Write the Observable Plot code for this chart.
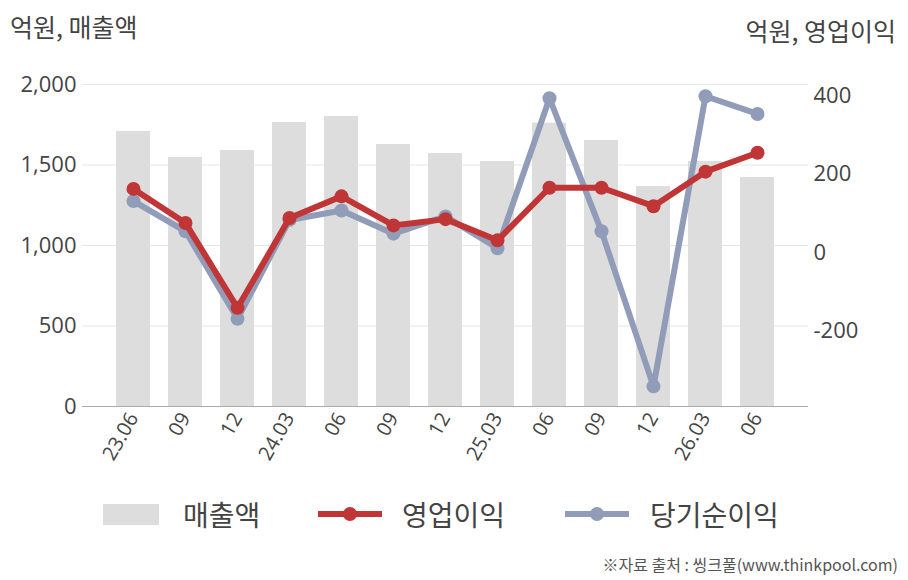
<!DOCTYPE html>
<html>
<head>
<meta charset="utf-8">
<script src="https://cdn.jsdelivr.net/npm/d3@7"></script>
<script src="https://cdn.jsdelivr.net/npm/@observablehq/plot@0.6"></script>
<style>
  body { margin: 0; background: #fff; }
  #wrap { position: relative; width: 908px; height: 580px; overflow: hidden; font-family: "Noto Sans CJK KR", "Open Sans", sans-serif; color: #444; }
  #wrap svg { position: absolute; left: 0; top: 0; }
  .t { position: absolute; white-space: nowrap; line-height: 1; }
  .leg { position: absolute; top: 494px; height: 40px; display: flex; align-items: center; font-size: 28px; color: #444; }
  .leg .item { position: absolute; display: flex; align-items: center; white-space: nowrap; }
</style>
</head>
<body>
<div id="wrap">
  <div class="t" style="left:10px; top:14px; font-size:25px;">억원, 매출액</div>
  <div class="t" style="right:12px; top:18px; font-size:25px;">억원, 영업이익</div>
  <div id="chart"></div>
  <div class="leg" style="left:0; width:908px;">
    <div class="item" style="left:103px;"><svg width="56" height="22" style="position:static"><rect x="0" y="1" width="56" height="21" fill="#dddddd"/></svg><span style="margin-left:24px">매출액</span></div>
    <div class="item" style="left:318px;"><svg width="64" height="22" style="position:static"><line x1="0" x2="64" y1="11" y2="11" stroke="#c03536" stroke-width="6"/><circle cx="32" cy="11" r="7" fill="#c03536"/></svg><span style="margin-left:20px">영업이익</span></div>
    <div class="item" style="left:565px;"><svg width="64" height="22" style="position:static"><line x1="0" x2="64" y1="11" y2="11" stroke="#909cb8" stroke-width="6"/><circle cx="32" cy="11" r="7" fill="#909cb8"/></svg><span style="margin-left:21px">당기순이익</span></div>
  </div>
  <div class="t" style="right:10px; top:556px; font-size:16px; color:#555;">※자료 출처 : 씽크풀(www.thinkpool.com)</div>
</div>
<script>
const periodKeys = ["23.06","23.09","23.12","24.03","24.06","24.09","24.12","25.03","25.06","25.09","25.12","26.03","26.06"];
const periodLabels = ["23.06","09","12","24.03","06","09","12","25.03","06","09","12","26.03","06"];
const sales = [1708,1547,1590,1764,1801,1627,1571,1522,1760,1652,1366,1522,1422];
const operatingProfit = [162,75,-141,88,143,69,85,31,165,165,118,206,254];
const netIncome = [131,54,-169,83,107,48,92,11,393,54,-341,398,353];
const leftTicks = [0,500,1000,1500,2000];
const rightTicks = [400,200,0,-200];

// secondary (right) axis mapped onto the left scale
const rightZeroOnLeft = 956.5;
const rightToLeftRatio = 2.438;
const toLeft = v => rightZeroOnLeft + v * rightToLeftRatio;
const fromLeft = l => Math.round((l - rightZeroOnLeft) / rightToLeftRatio);

const labelOf = k => periodLabels[periodKeys.indexOf(k)];
const barData = periodKeys.map((k, i) => ({k, v: sales[i]}));
const opData = periodKeys.map((k, i) => ({k, v: toLeft(operatingProfit[i])}));
const netData = periodKeys.map((k, i) => ({k, v: toLeft(netIncome[i])}));

const RED = "#c03536", BLUE = "#909cb8";

const chart = Plot.plot({
  width: 908,
  height: 470,
  marginTop: 84,
  marginBottom: 64,
  marginLeft: 82,
  marginRight: 100,
  style: {fontFamily: "'Open Sans', 'Noto Sans CJK KR', sans-serif", color: "#444", background: "transparent"},
  x: {type: "band", domain: periodKeys, paddingInner: 0.35, paddingOuter: 0.633, axis: null},
  y: {domain: [0, 2000], axis: null},
  marks: [
    Plot.ruleY(leftTicks, {stroke: "#e6e6e6", strokeWidth: 1}),
    Plot.barY(barData, {x: "k", y: "v", fill: "#dddddd"}),
    Plot.ruleY([0], {stroke: "#aaaaaa", strokeWidth: 1.2}),
    Plot.axisY(leftTicks, {anchor: "left", label: null, tickSize: 0, tickPadding: 6, fontSize: 22, tickFormat: d3.format(","), fill: "#444"}),
    Plot.axisY(rightTicks.map(toLeft), {anchor: "right", label: null, tickSize: 0, tickPadding: 5, fontSize: 22, tickFormat: d => String(fromLeft(d)), fill: "#444"}),
    Plot.axisX({anchor: "bottom", label: null, tickSize: 0, tickPadding: 8, tickRotate: -60, fontSize: 20, tickFormat: labelOf, fill: "#444"}),
    Plot.lineY(netData, {x: "k", y: "v", stroke: BLUE, strokeWidth: 6, curve: "linear"}),
    Plot.dot(netData, {x: "k", y: "v", r: 7, fill: BLUE}),
    Plot.lineY(opData, {x: "k", y: "v", stroke: RED, strokeWidth: 6, curve: "linear"}),
    Plot.dot(opData, {x: "k", y: "v", r: 7, fill: RED})
  ]
});
document.getElementById("chart").appendChild(chart);
</script>
</body>
</html>
